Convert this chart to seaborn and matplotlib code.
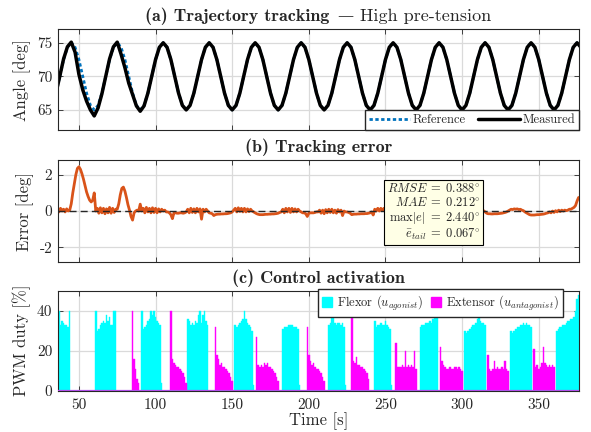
import numpy as np
import matplotlib
matplotlib.use("Agg")
import matplotlib.pyplot as plt
from matplotlib.patches import Patch
from matplotlib.offsetbox import TextArea, HPacker, AnchoredOffsetbox
import seaborn as sns

# -----------------------------------------------------------------------------
# DATA
# -----------------------------------------------------------------------------
# reference trajectory: one 30 s cycle sampled every 2.5 s, first sample at t = 35 s
ref_t0 = 35.0
ref_dt = 2.5
ref_cycle = [67.5, 70.0, 72.5, 74.33, 75.0, 74.33, 72.5, 70.0, 67.5, 65.67, 65.0, 65.67]
n_cycles = 12

# measured angle: only the first two cycles (t = 35 ... 95 s) differ from the reference
meas_start = [67.5, 70.0, 72.6, 74.4, 75.1, 73.6, 70.3, 68.0, 66.3, 65.0, 64.1, 65.3,
              67.4, 70.0, 72.6, 74.4, 75.1, 73.3, 71.3, 69.0, 67.3, 65.6, 64.8, 65.6, 67.5]

# tracking error, one value per second starting at t = 36 s
err_t0 = 36
err_segments = [
    [0.1, -0.05, 0.15, 0.0, 0.1, -0.05, 0.12, 0.0, 0.05],
    [0.4, 1.0, 1.5, 2.0, 2.35, 2.44, 2.3, 2.05, 1.75, 1.4, 1.05, 0.8, 0.6, 0.5, 0.6, 1.0, 0.0],
    [0.15, -0.12, 0.18, -0.1, 0.15, -0.15, 0.12, -0.1, 0.2, -0.12, 0.15, -0.08, 0.1],
    [0.1, 0.4, 0.9, 1.25, 1.32, 1.1, 0.75, 0.35, 0.05, -0.3, -0.5, -0.1, 0.0, 0.05, 0.0, 0.38, 0.0],
    [0.15, -0.1, 0.2, -0.05, 0.15, -0.1, 0.18, -0.08, 0.15, -0.1, 0.12, -0.05, 0.1, 0.0, 0.05],
    [-0.05, -0.05, -0.1, -0.2, -0.42, -0.1, -0.1, -0.12, -0.12, -0.1, -0.1, -0.12, -0.1, -0.05],
    [0.1, -0.1, 0.15, -0.08, 0.12, -0.1, 0.15, -0.05, 0.12, -0.45, 0.1, -0.05, 0.1, 0.0],
    [-0.1, -0.12, -0.15, -0.25, -0.2, -0.18, -0.17, -0.17, -0.16, -0.16, -0.15, -0.15, -0.14, -0.12, -0.1, -0.05],
    [0.05, 0.15, -0.05, 0.18, -0.02, 0.15, -0.05, 0.15, -0.05, 0.12, -0.03, 0.1, 0.0, -0.05],
    [-0.1, -0.15, -0.18, -0.2, -0.2, -0.2, -0.19, -0.18, -0.18, -0.17, -0.17, -0.16, -0.16, -0.15, -0.14, -0.12, -0.08, -0.05],
    [0.1, -0.1, 0.15, -0.05, 0.15, -0.08, 0.15, -0.05, 0.12, -0.05, 0.1, 0.0, -0.05],
    [-0.1, -0.1, -0.15, -0.3, -0.12, -0.1, -0.1, -0.1, -0.08, -0.05, -0.05],
    [0.05, -0.12, 0.05, -0.15, 0.08, -0.1, 0.1, -0.08, 0.1, -0.1, 0.05, -0.12, 0.08, -0.05, 0.05, -0.25, 0.0, -0.05, -0.05],
    [-0.08, -0.12, -0.2, -0.18, -0.17, -0.17, -0.16, -0.16, -0.15, -0.15, -0.15, -0.14, -0.14, -0.12, -0.1, -0.05, -0.22],
    [0.1, 0.0, 0.15, 0.0, 0.15, 0.02, 0.15, 0.0, 0.12, 0.0, 0.1, 0.0, -0.05],
    [-0.1, -0.15, -0.18, -0.2, -0.2, -0.19, -0.18, -0.18, -0.17, -0.16, -0.15, -0.15, -0.14, -0.12, -0.1, -0.05],
    [0.1, -0.08, 0.15, -0.05, 0.15, -0.05, 0.12, -0.05, 0.12, -0.03, 0.1, 0.0, 0.05, -0.05],
    [-0.1, -0.15, -0.18, -0.18, -0.18, -0.17, -0.17, -0.16, -0.16, -0.15, -0.15, -0.14, -0.12, -0.1, -0.08, -0.05],
    [0.05, -0.1, 0.12, -0.05, 0.12, -0.05, 0.1, -0.05, 0.1, -0.03, 0.08, 0.0, 0.02, -0.05],
    [-0.12, -0.15, -0.15, -0.16, -0.16, -0.15, -0.15, -0.15, -0.14, -0.13, -0.12, -0.1, -0.08, -0.05, 0.0],
    [0.05, 0.1, 0.08, 0.12, 0.1, 0.12, 0.08, 0.1, 0.05, 0.02, -0.05],
    [-0.1, -0.15, -0.2, -0.22, -0.22, -0.22, -0.21, -0.2, -0.2, -0.19, -0.18, -0.17, -0.15, -0.12, -0.1],
    [-0.05, -0.1, 0.0, -0.08, 0.02, -0.05, 0.05, -0.03, 0.05, 0.0, 0.05, 0.02],
    [0.05, 0.1, 0.1, 0.15, 0.2, 0.3, 0.55, 0.75],
]

# PWM duty bursts, one value per second from the start time
flex_start = [37, 61, 91, 121, 152, 183, 213, 243, 273, 302, 332, 362]
flex_bursts = [
    [40, 33, 35, 34, 33, 33, 32, 40],
    [40, 30, 31, 33, 34, 35, 34, 38, 35, 37, 33, 33, 40, 40],
    [40, 31, 32, 33, 35, 36, 40, 38, 40, 37, 35, 34, 33, 4],
    [36, 35, 33, 34, 33, 35, 34, 38, 40, 34, 38, 40, 35, 33],
    [33, 32, 33, 34, 35, 36, 40, 36, 34, 33, 32, 30, 3],
    [31, 32, 32, 32, 33, 33, 33, 32, 32, 32, 31, 3],
    [33, 34, 42, 44, 34, 33, 34, 34, 33, 34, 32, 3],
    [35, 32, 33, 33, 34, 33, 33, 35, 33, 32, 31, 3],
    [32, 33, 33, 34, 34, 34, 35, 34, 36, 45, 44, 40],
    [30, 29, 30, 31, 32, 33, 33, 34, 36, 37, 35, 34, 34, 33],
    [30, 29, 30, 31, 32, 32, 33, 33, 34, 33, 34, 33, 33, 32],
    [30, 31, 32, 32, 33, 33, 34, 35, 35, 36, 36, 37, 40, 46, 48],
]
ext_start = [85, 110, 139, 166, 199, 228, 257, 286, 317, 347]
ext_bursts = [
    [40, 16, 11, 6, 4],
    [40, 16, 14, 13, 12, 12, 11, 10, 9, 7, 4],
    [32, 18, 16, 13, 14, 12, 12, 11, 10, 9, 7, 5],
    [27, 13, 12, 13, 12, 14, 13, 14, 12, 12, 11, 10, 9, 7, 5],
    [32, 18, 15, 13, 14, 12, 11, 11, 10, 9, 7, 5],
    [38, 15, 14, 17, 13, 13, 12, 12, 11, 10, 9, 6],
    [24, 12, 12, 12, 13, 12, 20, 12, 13, 12, 13, 12, 20, 11],
    [22, 15, 13, 12, 11, 11, 12, 11, 11, 12, 12, 11, 12, 11, 10],
    [18, 11, 10, 11, 15, 11, 12, 11, 11, 12, 11, 15, 11, 10],
    [21, 12, 13, 11, 12, 14, 22, 14, 13, 12, 13, 12, 13, 12],
]

stats_text = ("$RMSE\\;=\\;0.388^{\\circ}$\n$MAE\\;=\\;0.212^{\\circ}$\n"
              "$\\max|e|\\;=\\;2.440^{\\circ}$\n$\\bar{e}_{tail}\\;=\\;0.067^{\\circ}$")

# -----------------------------------------------------------------------------
# PREPARE SERIES
# -----------------------------------------------------------------------------
angle_ref = np.tile(ref_cycle, n_cycles)
t_ang = ref_t0 + ref_dt * np.arange(len(angle_ref))
angle_meas = angle_ref.copy()
angle_meas[:len(meas_start)] = meas_start

error_deg = np.concatenate(err_segments)
t_err = err_t0 + np.arange(len(error_deg))

t_flex = np.concatenate([s + np.arange(len(b)) for s, b in zip(flex_start, flex_bursts)])
u_flex = np.concatenate(flex_bursts)
t_ext = np.concatenate([s + np.arange(len(b)) for s, b in zip(ext_start, ext_bursts)])
u_ext = np.concatenate(ext_bursts)

# -----------------------------------------------------------------------------
# STYLE
# -----------------------------------------------------------------------------
sns.set_theme(style="ticks")
plt.rcParams.update({
    "font.family": ["cmr10", "DejaVu Serif"],
    "mathtext.fontset": "cm",
    "axes.unicode_minus": False,
    "xtick.direction": "in", "ytick.direction": "in",
    "xtick.top": True, "ytick.right": True,
    "xtick.major.size": 3.5, "ytick.major.size": 3.5,
    "xtick.major.width": 0.6, "ytick.major.width": 0.6,
    "xtick.major.pad": 5.5, "ytick.major.pad": 4,
    "axes.edgecolor": "#262626", "axes.linewidth": 0.8,
    "xtick.color": "#262626", "ytick.color": "#262626",
    "xtick.labelsize": 11, "ytick.labelsize": 11,
    "axes.labelsize": 12, "axes.labelcolor": "#262626",
    "grid.color": "#dadada", "grid.linewidth": 0.9,
})

c_ref = "#0072BD"
c_err = "#D95319"
c_flex = "#00FFFF"
c_ext = "#FF00FF"
xlim = (36.3, 376)
title_size = 13


def panel_title(ax, bold, normal=None):
    # bold part in Computer Modern bold, optional regular part after an em dash
    parts = [TextArea(bold, textprops=dict(family="cmb10", fontsize=title_size, color="#262626"))]
    if normal:
        parts.append(TextArea("\u2014", textprops=dict(family="DejaVu Serif", fontsize=title_size - 1.5,
                                                        color="#262626")))
        parts.append(TextArea(normal, textprops=dict(family="cmr10", fontsize=title_size,
                                                     color="#262626")))
    box = HPacker(children=parts, align="baseline", pad=0, sep=5)
    anchored = AnchoredOffsetbox(loc="lower center", child=box, pad=0, borderpad=0, frameon=False,
                                 bbox_to_anchor=(0.5, 1.04), bbox_transform=ax.transAxes)
    ax.add_artist(anchored)


fig = plt.figure(figsize=(5.91, 4.32), dpi=100)
ax1 = fig.add_axes([0.098, 0.699, 0.881, 0.233])
ax2 = fig.add_axes([0.098, 0.394, 0.881, 0.235])
ax3 = fig.add_axes([0.098, 0.096, 0.881, 0.231])

# (a) trajectory
sns.lineplot(x=t_ang, y=angle_ref, ax=ax1, color=c_ref, lw=2.0, label="Reference")
ax1.lines[-1].set_dashes((1.2, 0.9))
sns.lineplot(x=t_ang, y=angle_meas, ax=ax1, color="black", lw=2.5, label="Measured")
ax1.set_ylim(62, 77)
ax1.set_yticks([65, 70, 75])
ax1.set_ylabel("Angle [deg]")
panel_title(ax1, "(a) Trajectory tracking", "High pre-tension")
ax1.legend(loc="lower right", bbox_to_anchor=(1, 0), borderaxespad=0, ncol=2,
           fontsize=9, frameon=True, fancybox=False, framealpha=1, edgecolor="#262626",
           handlelength=3.3, columnspacing=1.0, handletextpad=0.2, borderpad=0.3)

# (b) tracking error
ax2.axhline(0, color="#262626", lw=1.0, ls=(0, (5, 3)), zorder=3)
sns.lineplot(x=t_err, y=error_deg, ax=ax2, color=c_err, lw=2.0, zorder=2)
ax2.set_ylim(-2.8, 2.8)
ax2.set_yticks([-2, 0, 2])
ax2.set_ylabel("Error [deg]")
panel_title(ax2, "(b) Tracking error")
ax2.text(0.7214, 0.4936, stats_text, transform=ax2.transAxes, ha="center", va="center",
         multialignment="right", fontsize=9, linespacing=1.1, color="#262626", zorder=5,
         bbox=dict(boxstyle="square,pad=0.25", fc="#FFFFE6", ec="black", lw=0.8))

# (c) control activation
sns.barplot(x=t_flex, y=u_flex, ax=ax3, native_scale=True, width=1, color=c_flex,
            saturation=1, errorbar=None, linewidth=0.3, edgecolor=c_flex)
sns.barplot(x=t_ext, y=u_ext, ax=ax3, native_scale=True, width=1, color=c_ext,
            saturation=1, errorbar=None, linewidth=0.3, edgecolor=c_ext)
ax3.axhline(0, color="#B050E8", lw=1.6, zorder=4)
ax3.set_ylim(0, 50)
ax3.set_yticks([0, 20, 40])
ax3.set_ylabel("PWM duty [%]")
ax3.set_xlabel("Time [s]", labelpad=0)
panel_title(ax3, "(c) Control activation")
handles = [Patch(color=c_flex), Patch(color=c_ext)]
ax3.legend(handles, ["Flexor ($u_{agonist}$)", "Extensor ($u_{antagonist}$)"],
           loc="upper right", bbox_to_anchor=(0.97, 1.015), borderaxespad=0, ncol=2,
           fontsize=9, frameon=True, fancybox=False, framealpha=1, edgecolor="#262626",
           handlelength=0.8, handleheight=0.8, handletextpad=0.4, columnspacing=0.6,
           borderpad=0.35)

for ax in (ax1, ax2, ax3):
    ax.set_xlim(*xlim)
    ax.set_xticks([50, 100, 150, 200, 250, 300, 350])
    ax.grid(True)
    ax.set_axisbelow(True)
    for sp in ax.spines.values():
        sp.set_visible(True)
ax1.tick_params(labelbottom=False)
ax2.tick_params(labelbottom=False)
ax1.set_xlabel("")
ax2.set_xlabel("")

fig.savefig("out.png", dpi=100)
